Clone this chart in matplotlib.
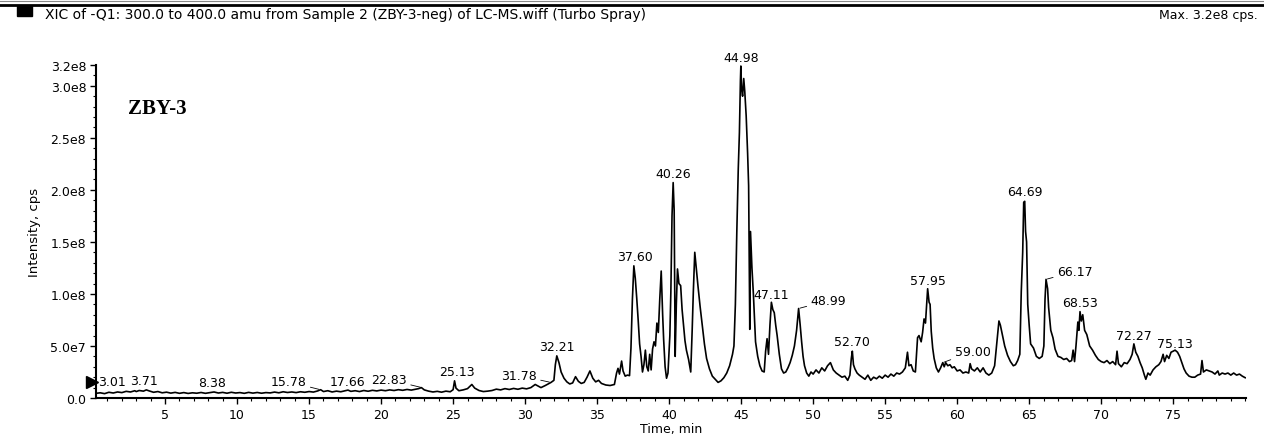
"""
XIC chromatogram of sample ZBY-3 (negative mode, m/z 300-400).
Trace read by hand from the instrument printout.
"""

import numpy as np
import matplotlib
matplotlib.use('Agg')
import matplotlib.pyplot as plt
from matplotlib.ticker import MultipleLocator, FixedLocator
from matplotlib.lines import Line2D

# -----------------------------------------------------------------------
# Data (time in min, intensity in units of 1e7 cps)
# -----------------------------------------------------------------------
time_min = [
    0.2, 0.5, 0.8, 1.1, 1.4, 1.7, 2.0, 2.3, 2.6, 2.9, 3.0, 3.2, 3.5, 3.7, 3.9,
    4.2, 4.5, 4.8, 5.1, 5.4, 5.7, 6.0, 6.3, 6.6, 6.9, 7.2, 7.5, 7.8, 8.1, 8.4,
    8.7, 9.0, 9.3, 9.6, 9.9, 10.2, 10.5, 10.8, 11.1, 11.4, 11.7, 12.0, 12.3,
    12.6, 12.9, 13.2, 13.5, 13.8, 14.1, 14.4, 14.7, 15.0, 15.3, 15.6, 15.8,
    16.0, 16.3, 16.6, 16.9, 17.2, 17.5, 17.7, 17.9, 18.2, 18.5, 18.8, 19.1,
    19.4, 19.7, 20.0, 20.3, 20.6, 20.9, 21.2, 21.5, 21.8, 22.1, 22.4, 22.6,
    22.8, 23.0, 23.3, 23.6, 23.9, 24.2, 24.5, 24.8, 25.0, 25.1, 25.2, 25.4,
    25.7, 26.0, 26.3, 26.5, 26.8, 27.1, 27.4, 27.7, 28.0, 28.3, 28.6, 28.9,
    29.2, 29.5, 29.8, 30.1, 30.4, 30.7, 30.9, 31.1, 31.4, 31.6, 31.8, 32.0,
    32.1, 32.2, 32.35, 32.5, 32.7, 32.9, 33.1, 33.3, 33.5, 33.7, 33.9, 34.1,
    34.3, 34.5, 34.7, 34.9, 35.1, 35.3, 35.6, 35.9, 36.2, 36.35, 36.45, 36.55,
    36.7, 36.8, 36.95, 37.1, 37.25, 37.35, 37.45, 37.55, 37.65, 37.75, 37.85,
    37.95, 38.05, 38.15, 38.25, 38.35, 38.45, 38.55, 38.65, 38.75, 38.85,
    38.95, 39.05, 39.15, 39.25, 39.35, 39.45, 39.55, 39.62, 39.72, 39.82,
    39.92, 40.05, 40.12, 40.2, 40.28, 40.35, 40.42, 40.5, 40.58, 40.68, 40.8,
    40.9, 41.0, 41.1, 41.2, 41.35, 41.5, 41.6, 41.68, 41.78, 41.88, 42.0,
    42.15, 42.3, 42.45, 42.6, 42.8, 43.0, 43.2, 43.4, 43.6, 43.8, 44.0, 44.2,
    44.4, 44.5, 44.6, 44.7, 44.8, 44.88, 44.95, 44.98, 45.03, 45.1, 45.18,
    45.25, 45.35, 45.45, 45.52, 45.6, 45.65, 45.75, 45.85, 46.0, 46.15, 46.3,
    46.45, 46.6, 46.7, 46.8, 46.9, 47.0, 47.1, 47.2, 47.3, 47.4, 47.5, 47.65,
    47.8, 47.95, 48.1, 48.25, 48.4, 48.55, 48.7, 48.85, 48.99, 49.1, 49.2,
    49.3, 49.4, 49.55, 49.7, 49.85, 50.0, 50.2, 50.4, 50.6, 50.8, 51.0, 51.2,
    51.4, 51.6, 51.8, 52.0, 52.2, 52.4, 52.55, 52.65, 52.72, 52.8, 52.9,
    53.05, 53.2, 53.4, 53.6, 53.8, 54.0, 54.2, 54.4, 54.6, 54.8, 55.0, 55.2,
    55.4, 55.6, 55.8, 56.0, 56.2, 56.4, 56.55, 56.65, 56.8, 56.95, 57.1,
    57.25, 57.35, 57.5, 57.6, 57.7, 57.8, 57.9, 57.95, 58.05, 58.12, 58.2,
    58.3, 58.4, 58.55, 58.7, 58.85, 59.0, 59.1, 59.2, 59.35, 59.5, 59.65,
    59.8, 60.0, 60.2, 60.4, 60.6, 60.8, 60.9, 61.0, 61.2, 61.4, 61.6, 61.8,
    62.0, 62.2, 62.4, 62.6, 62.75, 62.9, 63.0, 63.15, 63.3, 63.5, 63.7, 63.9,
    64.05, 64.2, 64.35, 64.45, 64.55, 64.62, 64.69, 64.75, 64.82, 64.9, 65.0,
    65.1, 65.3, 65.5, 65.7, 65.9, 66.02, 66.1, 66.17, 66.28, 66.35, 66.5,
    66.65, 66.8, 67.0, 67.2, 67.4, 67.6, 67.8, 67.95, 68.05, 68.15, 68.25,
    68.38, 68.45, 68.53, 68.62, 68.72, 68.85, 69.0, 69.2, 69.4, 69.6, 69.8,
    70.0, 70.2, 70.4, 70.6, 70.8, 71.0, 71.1, 71.2, 71.4, 71.6, 71.8, 72.0,
    72.15, 72.27, 72.4, 72.55, 72.7, 72.85, 73.0, 73.1, 73.25, 73.4, 73.6,
    73.8, 74.0, 74.15, 74.3, 74.4, 74.55, 74.7, 74.85, 75.0, 75.13, 75.3,
    75.45, 75.6, 75.75, 75.9, 76.1, 76.3, 76.5, 76.7, 76.9, 77.0, 77.1, 77.3,
    77.5, 77.7, 77.9, 78.1, 78.2, 78.4, 78.6, 78.8, 79.0, 79.2, 79.4, 79.6,
    79.8, 80.0,
]

intensity_e7 = [
    0.45, 0.50, 0.42, 0.55, 0.48, 0.58, 0.52, 0.64, 0.58, 0.70, 0.62, 0.72, 0.66, 0.78, 0.68,
    0.55, 0.62, 0.50, 0.56, 0.47, 0.54, 0.45, 0.52, 0.44, 0.50, 0.46, 0.53, 0.45, 0.51, 0.58,
    0.48, 0.54, 0.46, 0.55, 0.48, 0.52, 0.45, 0.54, 0.47, 0.53, 0.46, 0.52, 0.49,
    0.57, 0.50, 0.60, 0.53, 0.58, 0.52, 0.60, 0.55, 0.62, 0.57, 0.68, 0.80,
    0.62, 0.70, 0.58, 0.66, 0.60, 0.70, 0.76, 0.64, 0.70, 0.62, 0.72, 0.65,
    0.74, 0.68, 0.76, 0.70, 0.78, 0.72, 0.80, 0.74, 0.82, 0.76, 0.84, 0.90,
    1.00, 0.78, 0.66, 0.58, 0.64, 0.56, 0.66, 0.60, 0.80, 1.65, 0.95, 0.70,
    0.78, 0.90, 1.30, 0.95, 0.72, 0.62, 0.66, 0.72, 0.85, 0.78, 0.90, 0.82,
    0.92, 0.84, 0.95, 0.88, 1.00, 1.30, 1.15, 1.00, 1.20, 1.35, 1.50, 1.70,
    3.20, 4.05, 3.40, 2.50, 1.90, 1.55, 1.35, 1.45, 2.05, 1.60, 1.40, 1.50,
    2.00, 2.60, 1.90, 1.55, 1.70, 1.40, 1.25, 1.20, 1.30, 2.40, 2.85, 2.30,
    3.55, 2.60, 2.10, 2.20, 2.15, 4.80, 9.50, 12.70, 11.50, 9.60, 7.50,
    5.20, 4.00, 2.50, 3.20, 4.60, 3.00, 2.60, 4.20, 2.70, 4.70,
    5.40, 5.00, 7.20, 6.30, 9.50, 12.20, 8.00, 5.60, 3.00, 1.90,
    2.40, 6.00, 10.20, 17.50, 20.70, 18.00, 4.00, 9.00, 12.40, 11.00, 10.80,
    8.50, 7.00, 5.50, 4.60, 3.70, 2.50, 6.50, 10.20, 14.00, 12.50, 10.80,
    8.80, 7.00, 5.20, 3.80, 2.80, 2.10, 1.80, 1.50, 1.65, 1.95, 2.40, 3.10,
    4.20, 5.00, 9.00, 16.00, 22.00, 25.50, 30.50, 31.90, 29.70, 29.00, 30.70,
    29.50, 27.10, 23.50, 20.40, 6.60, 16.00, 12.50, 10.00, 5.40, 4.00, 3.10,
    2.60, 2.50, 4.50, 5.70, 4.20, 7.00, 9.20, 8.50, 8.20, 7.00, 6.00, 4.20,
    2.80, 2.40, 2.50, 2.90, 3.40, 4.10, 5.00, 6.50, 8.60, 7.00, 5.40,
    4.00, 3.10, 2.40, 2.10, 2.50, 2.30, 2.70, 2.40, 2.90, 2.60, 3.10, 3.40,
    2.70, 2.40, 2.20, 2.00, 2.10, 1.70, 2.20, 3.80, 4.50, 3.20, 2.80,
    2.40, 2.20, 2.00, 1.80, 2.20, 1.70, 2.00, 1.85, 2.10, 1.90, 2.20, 2.00,
    2.30, 2.10, 2.40, 2.30, 2.50, 2.90, 4.40, 3.10, 3.20, 2.60, 2.50,
    5.80, 6.00, 5.40, 6.30, 7.60, 7.20, 9.50, 10.50, 9.20, 9.00, 6.40,
    4.80, 3.80, 2.90, 2.50, 2.90, 3.40, 3.00, 3.40, 3.10, 3.20, 2.90,
    3.00, 2.60, 2.70, 2.40, 2.50, 2.40, 3.30, 2.80, 2.60, 2.90, 2.50, 2.90,
    2.40, 2.20, 2.40, 3.10, 5.20, 7.40, 7.00, 6.00, 5.00, 4.10, 3.50, 3.10,
    3.20, 3.60, 4.20, 10.20, 14.00, 18.80, 18.90, 16.00, 15.00, 9.00, 7.00,
    5.20, 4.80, 4.00, 3.80, 4.00, 5.00, 9.50, 11.40, 10.50, 8.70, 6.50,
    5.80, 4.70, 4.00, 3.90, 3.70, 3.80, 3.50, 3.60, 4.60, 3.50, 5.00,
    7.30, 6.50, 8.30, 7.40, 8.00, 6.50, 6.10, 5.00, 4.60, 4.10, 3.70,
    3.50, 3.40, 3.60, 3.30, 3.50, 3.20, 4.50, 3.30, 3.00, 3.40, 3.30, 3.70,
    4.20, 5.20, 4.40, 4.00, 3.40, 2.90, 2.20, 1.80, 2.40, 2.20, 2.70,
    3.00, 3.20, 3.50, 4.20, 3.50, 4.10, 3.80, 4.40, 4.50, 4.60, 4.40,
    4.00, 3.40, 2.80, 2.40, 2.10, 2.00, 2.00, 2.20, 2.30, 3.60, 2.50, 2.70,
    2.60, 2.50, 2.30, 2.60, 2.20, 2.40, 2.30, 2.40, 2.20, 2.40, 2.20, 2.30,
    2.10, 1.95,
]

# labelled retention times
peak_labels = ["3.01", "3.71", "8.38", "15.78", "17.66", "22.83", "25.13",
               "31.78", "32.21", "37.60", "40.26", "44.98", "47.11", "48.99",
               "52.70", "57.95", "59.00", "64.69", "66.17", "68.53", "72.27",
               "75.13"]

ytick_values = [0, 5e7, 1.0e8, 1.5e8, 2.0e8, 2.5e8, 3.0e8, 3.2e8]
ytick_labels = ["0.0", "5.0e7", "1.0e8", "1.5e8", "2.0e8", "2.5e8", "3.0e8", "3.2e8"]
xtick_values = [5, 10, 15, 20, 25, 30, 35, 40, 45, 50, 55, 60, 65, 70, 75]

# label placement (pixel offsets from the peak top), leader line on/off
label_dx = [-24, -3, -2, -32, 0, -33, 2, -32, 0, 0, 0, 0, 0, 30,
            0, 0, 30, 0, 29, 0, 0, 0]
label_dy = [9, 9, 9, 8, 9, 8, 9, 7, 9, 9, 9, 9, 8, 8,
            10, 8, 11, 10, 8, 9, 8, 7]
leader = [False, False, False, True, False, True, False, True, False, False,
          False, False, False, True, False, False, True, False, True, False,
          False, False]

t = np.array(time_min)
y = np.array(intensity_e7) * 1e7

plt.rcParams['font.family'] = 'DejaVu Sans'
LABEL_FS = 9

fig = plt.figure(figsize=(12.64, 4.39), dpi=100)
ax = fig.add_axes([0.0759, 0.0911, 0.9098, 0.7586])

ax.plot(t, y, color='black', lw=1.2)

ax.set_xlim(0.2, 80.05)
ax.set_ylim(0, 3.2e8)

ax.xaxis.set_major_locator(FixedLocator(xtick_values))
ax.xaxis.set_minor_locator(MultipleLocator(1))
ax.yaxis.set_major_locator(FixedLocator(ytick_values))
ax.set_yticklabels(ytick_labels)
ax.yaxis.set_minor_locator(MultipleLocator(1e7))

ax.tick_params(which='major', direction='out', length=4, width=1, labelsize=LABEL_FS, pad=3)
ax.tick_params(which='minor', direction='out', length=2.5, width=0.8)

for side in ['top', 'right']:
    ax.spines[side].set_visible(False)
for side in ['left', 'bottom']:
    ax.spines[side].set_linewidth(1.5)

ax.set_xlabel("Time, min", fontsize=LABEL_FS, labelpad=1)
ax.set_ylabel("Intensity, cps", fontsize=9.5, labelpad=7)

# start-of-trace marker
ax.plot(-0.05, 1.55e7, marker='>', ms=8, color='black', clip_on=False)

# -----------------------------------------------------------------------
# Peak labels
# -----------------------------------------------------------------------
for lab, dx, dy, lead in zip(peak_labels, label_dx, label_dy, leader):
    pt = float(lab)
    near = np.abs(t - pt) <= 0.12
    top = y[near].max()
    kw = dict(xy=(pt, top), xytext=(dx, dy), textcoords='offset pixels',
              ha='center', va='center', fontsize=LABEL_FS, annotation_clip=False)
    if lead:
        kw['arrowprops'] = dict(arrowstyle='-', lw=0.6, color='black',
                                shrinkA=1, shrinkB=1)
    ax.annotate(lab, **kw)

ax.text(2.4, 2.79e8, "ZBY-3", fontsize=15, fontweight='bold',
        family='Liberation Serif', va='center')

# -----------------------------------------------------------------------
# Header bar
# -----------------------------------------------------------------------
fig.add_artist(Line2D([0, 1], [1 - 1.5 / 439] * 2, color='#888888', lw=0.8))
fig.add_artist(Line2D([0, 1], [1 - 6 / 439] * 2, color='black', lw=2.0))
fig.add_artist(plt.Rectangle((17 / 1264, 1 - 17 / 439), 15 / 1264, 10 / 439,
                             color='black', transform=fig.transFigure))
fig.text(45 / 1264, 1 - 15 / 439,
         "XIC of -Q1: 300.0 to 400.0 amu from Sample 2 (ZBY-3-neg) of LC-MS.wiff (Turbo Spray)",
         fontsize=10, va='center', ha='left')
fig.text(1258 / 1264, 1 - 15 / 439, "Max. 3.2e8 cps.", fontsize=9,
         va='center', ha='right')

fig.savefig("out.png", dpi=100)
